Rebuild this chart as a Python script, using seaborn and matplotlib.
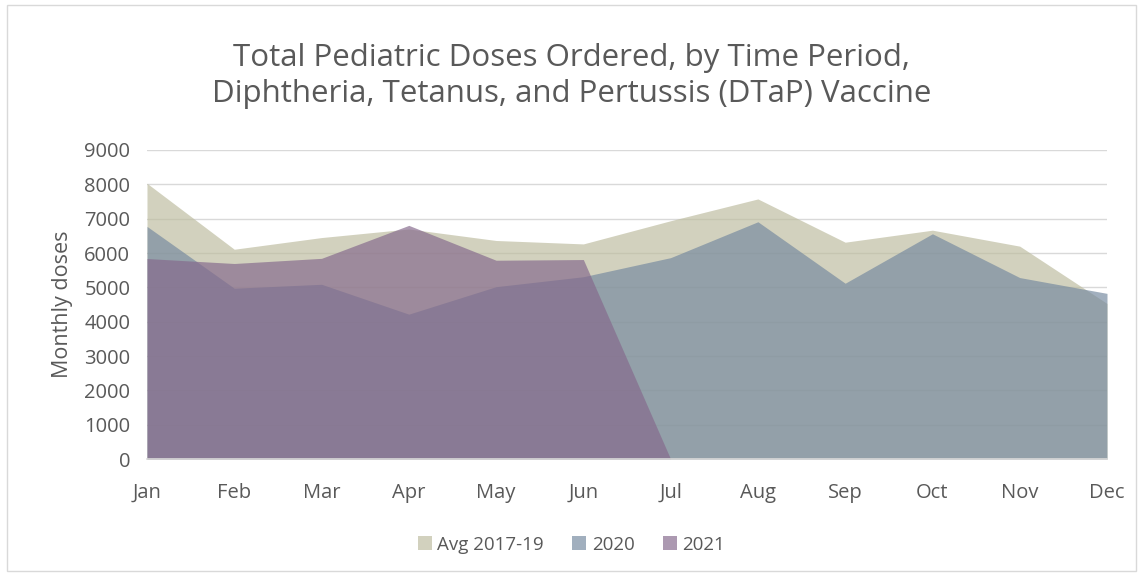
import numpy as np
import pandas as pd
import seaborn as sns
from matplotlib import pyplot as plt
from matplotlib.patches import Patch, Rectangle

months = ['Jan', 'Feb', 'Mar', 'Apr', 'May', 'Jun',
          'Jul', 'Aug', 'Sep', 'Oct', 'Nov', 'Dec']
avg_2017_19 = [8030, 6110, 6450, 6700, 6365, 6265, 6940, 7575, 6315, 6665, 6200, 4530]
doses_2020 = [6775, 4975, 5090, 4220, 5020, 5310, 5865, 6910, 5120, 6560, 5285, 4825]
doses_2021 = [5840, 5695, 5845, 6805, 5790, 5810, 0, np.nan, np.nan, np.nan, np.nan, np.nan]
series_names = ['Avg 2017-19', '2020', '2021']

df = pd.DataFrame({'Month': months,
                   'Avg 2017-19': avg_2017_19,
                   '2020': doses_2020,
                   '2021': doses_2021})

sns.set_theme(style='white')
plt.rcParams['font.family'] = ['Open Sans', 'DejaVu Sans']
txt = '#595959'

colors = {'Avg 2017-19': '#bdbc9f', '2020': '#75899f', '2021': '#85698c'}
alpha = 0.68

fig, ax = plt.subplots(figsize=(11.43, 5.76), dpi=100)
fig.subplots_adjust(left=0.1286, right=0.9685, bottom=0.203, top=0.7396)

x = np.arange(len(months))
for name in series_names:
    y = df[name].values
    ax.fill_between(x, 0, y, where=~np.isnan(y), color=colors[name],
                    alpha=alpha, linewidth=0, zorder=2)

ax.set_xlim(0, len(months) - 1)
ax.set_ylim(0, 9000)
ax.set_yticks(range(0, 9001, 1000))
ax.set_xticks(x)
ax.set_xticklabels(months)
ax.yaxis.grid(True, color='#d9d9d9', linewidth=1, zorder=0)
ax.set_axisbelow(True)
sns.despine(ax=ax, left=True)
ax.spines['bottom'].set_color('#d9d9d9')
ax.spines['bottom'].set_linewidth(1.2)
ax.tick_params(axis='both', length=0, labelsize=14.5, colors=txt)
ax.tick_params(axis='x', pad=17)
ax.tick_params(axis='y', pad=12)

ax.set_ylabel('Monthly doses', fontsize=15.5, color=txt, labelpad=8)
fig.text(0.5, 0.868, 'Total Pediatric Doses Ordered, by Time Period,\n'
         'Diphtheria, Tetanus, and Pertussis (DTaP) Vaccine',
         ha='center', va='center', fontsize=22.5, color=txt, linespacing=1.3)

handles = [Patch(facecolor=colors[n], alpha=alpha, edgecolor='none') for n in series_names]
fig.legend(handles, series_names, loc='center', bbox_to_anchor=(0.5, 0.054),
           ncol=3, frameon=False, fontsize=13.5, labelcolor=txt,
           handlelength=0.75, handleheight=0.75, handletextpad=0.3, columnspacing=1.5)

fig.patches.append(Rectangle((0.006, 0.008), 0.988, 0.984, transform=fig.transFigure,
                             fill=False, edgecolor='#d9d9d9', linewidth=1))

fig.savefig('out.png', dpi=100)
